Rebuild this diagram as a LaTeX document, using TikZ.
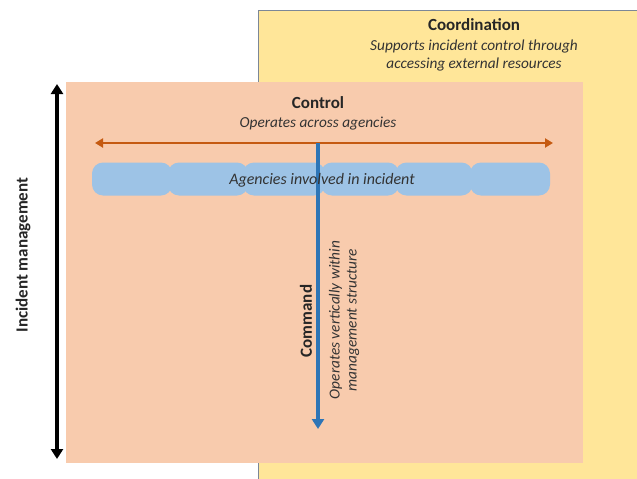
\documentclass[tikz,border=0pt]{standalone}
\usepackage{fontspec}
\setmainfont{Carlito}
\usetikzlibrary{arrows.meta}
\definecolor{coordy}{HTML}{FFE699}
\definecolor{ctrlo}{HTML}{F8CBAD}
\definecolor{arrowo}{HTML}{C55A11}
\definecolor{pillb}{HTML}{9DC3E6}
\definecolor{cmdb}{HTML}{2E75B6}
\definecolor{edgeb}{HTML}{44546A}
\tikzset{
  pill/.style={fill=pillb, rounded corners=11pt, draw=none},
  ttl/.style={font=\bfseries\fontsize{17}{19}\selectfont, text=black!85},
  sub/.style={font=\itshape\fontsize{15.3}{18}\selectfont, text=black!80, align=center},
}
\begin{document}
\begin{tikzpicture}[x=1pt,y=-1pt]
\useasboundingbox (0,0) rectangle (637,479);
\fill[white] (0,0) rectangle (637,479);
% coordination box
\fill[coordy] (258,10) rectangle (640,482);
\draw[edgeb!70, line width=0.8pt] (258,482) -- (258,10) -- (640,10);
\node[ttl] (coord) at (474,25) {Coordination};
\node[sub] (coordsub) at (474,55) {Supports incident control through\\accessing external resources};
% control box
\fill[ctrlo] (66,82) rectangle (583,463);
\node[ttl] (ctrl) at (318,103) {Control};
\node[sub] (ctrlsub) at (318,124) {Operates across agencies};
% agencies pills
\node[pill, minimum width=80pt, minimum height=33pt] (p1) at (132,179) {};
\node[pill, minimum width=80pt, minimum height=33pt] (p2) at (208,179) {};
\node[pill, minimum width=82pt, minimum height=33pt] (p3) at (284,179) {};
\node[pill, minimum width=78pt, minimum height=33pt] (p4) at (360,179) {};
\node[pill, minimum width=77pt, minimum height=33pt] (p5) at (434,179) {};
\node[pill, minimum width=80pt, minimum height=33pt] (p6) at (510,179) {};
% control arrow
\coordinate (cl) at (95,143);
\coordinate (cr) at (553,143);
\draw[arrowo, line width=2.4pt, {Triangle[length=8pt,width=9pt]}-{Triangle[length=8pt,width=9pt]}] (cl) -- (cr);
% command arrow
\coordinate (ct) at (318,143);
\coordinate (cb) at (318,429);
\draw[cmdb, line width=3.5pt, -{Triangle[length=10pt,width=12pt]}] (ct) -- (cb);
\node[sub, font=\itshape\fontsize{16}{18}\selectfont] (agen) at (322,180) {Agencies involved in incident};
\node[ttl, rotate=90] (cmd) at (306,321) {Command};
\node[sub, rotate=90, font=\itshape\fontsize{15.3}{17}\selectfont] (cmdsub) at (344,320) {Operates vertically within\\management structure};
% incident management arrow
\coordinate (it) at (57,84);
\coordinate (ib) at (57,459);
\draw[black, line width=3.5pt, {Triangle[length=10pt,width=12pt]}-{Triangle[length=10pt,width=12pt]}] (it) -- (ib);
\node[ttl, rotate=90] (im) at (23,255) {Incident management};
\end{tikzpicture}
\end{document}
